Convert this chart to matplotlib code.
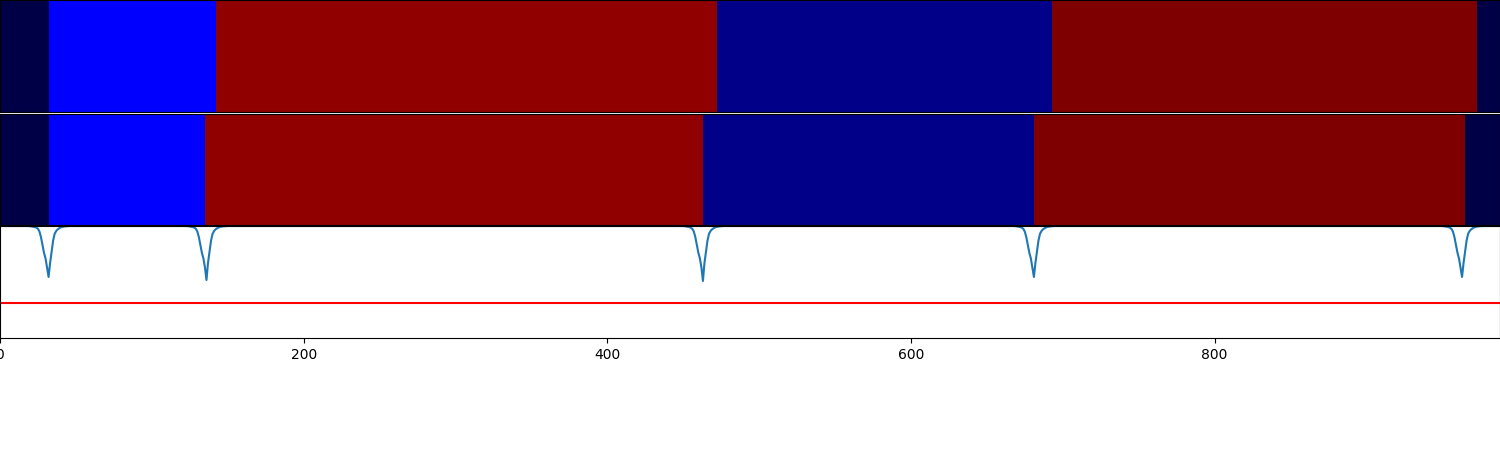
import numpy as np
import matplotlib
matplotlib.use("Agg")
import matplotlib.pyplot as plt
from matplotlib.colors import ListedColormap

n_frames = 988

# segment boundaries (start frames) and class ids for the two label rows
top_starts = [0, 32, 142, 472, 693, 973]
top_labels = [0, 1, 2, 3, 4, 0]
bot_starts = [0, 32, 135, 463, 681, 965]
bot_labels = [0, 1, 2, 3, 4, 0]

# confidence curve: flat at 1.0 with dips at the predicted boundaries
dip_frames = [32, 136, 463, 681, 963]
dip_minima = [0.545, 0.518, 0.509, 0.545, 0.545]
dip_offsets = list(range(-14, 15))
dip_profile = [1.0, 0.999, 0.998, 0.996, 0.993, 0.99, 0.985, 0.975, 0.95, 0.90, 0.83, 0.76, 0.71, 0.63,
               None, 0.67, 0.77, 0.87, 0.93, 0.955, 0.97, 0.98, 0.987, 0.992, 0.995, 0.997, 0.998, 0.999, 1.0]
baseline = 1.0
threshold = 0.31

class_colors = ['#000046', '#0000ff', '#910000', '#000088', '#7f0000']
cmap = ListedColormap(class_colors)


def build_row(starts, labels):
    row = np.zeros(n_frames, dtype=int)
    ends = starts[1:] + [n_frames]
    for s, e, lab in zip(starts, ends, labels):
        row[s:e] = lab
    return row


conf = np.full(n_frames, baseline)
for f, m in zip(dip_frames, dip_minima):
    for off, v in zip(dip_offsets, dip_profile):
        i = f + off
        if 0 <= i < n_frames:
            conf[i] = m if v is None else v

fig = plt.figure(figsize=(15, 4.5), dpi=100)
ax1 = fig.add_axes([0, 0.7522, 1, 0.2478])
ax2 = fig.add_axes([0, 0.5, 1, 0.2476])
ax3 = fig.add_axes([0, 0.2489, 1, 0.2489])

for ax, starts, labels in [(ax1, top_starts, top_labels), (ax2, bot_starts, bot_labels)]:
    row = build_row(starts, labels)
    ax.imshow(row[None, :], aspect='auto', cmap=cmap, vmin=-0.5, vmax=len(class_colors) - 0.5,
              interpolation='nearest', extent=(0, n_frames, 0, 1))
    ax.set_xlim(0, n_frames)
    ax.set_xticks([])
    ax.set_yticks([])

ax3.plot(np.arange(n_frames), conf, color='tab:blue', lw=1.5)
ax3.axhline(threshold, color='red', lw=1.5)
ax3.set_xlim(0, n_frames)
ax3.set_ylim(0, 1)
ax3.set_yticks([])
ax3.set_xticks([0, 200, 400, 600, 800])

fig.savefig("out.png", dpi=100)
